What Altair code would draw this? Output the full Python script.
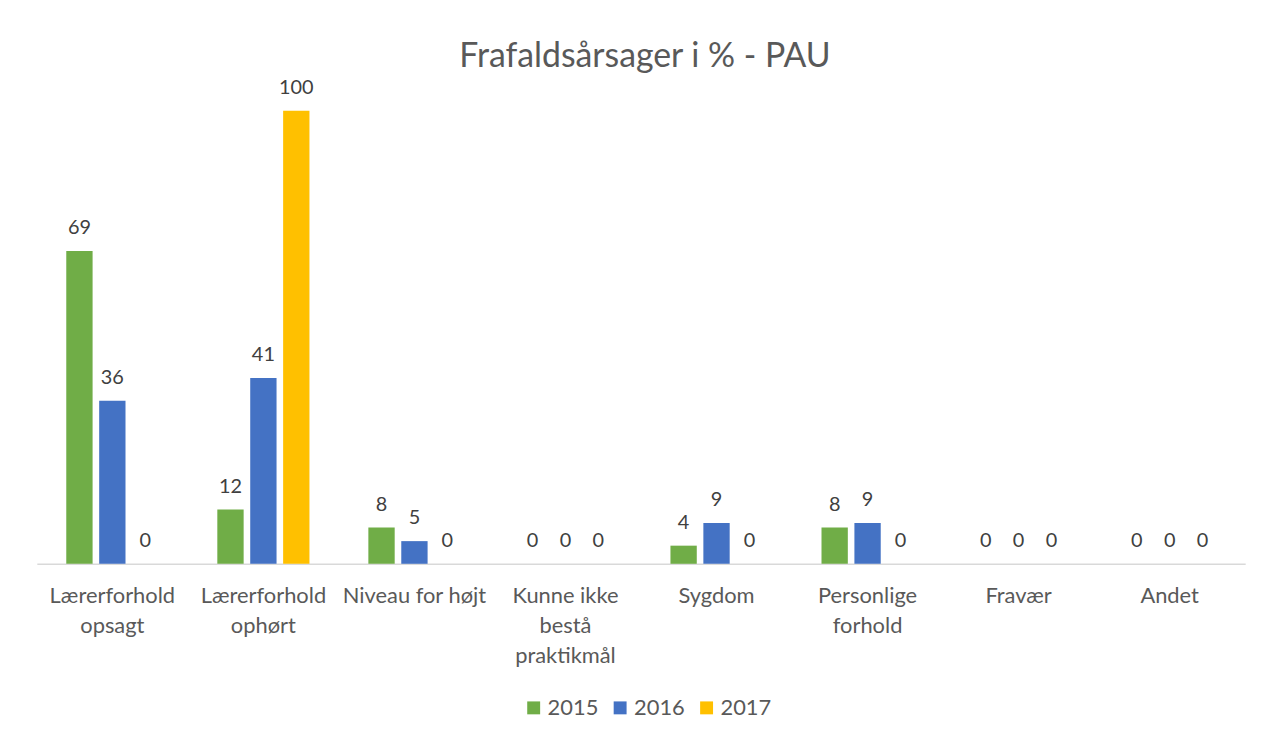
import altair as alt
import pandas as pd

categories = ["Lærerforhold opsagt", "Lærerforhold ophørt", "Niveau for højt",
              "Kunne ikke bestå praktikmål", "Sygdom", "Personlige forhold",
              "Fravær", "Andet"]
label_lines = [["Lærerforhold", "opsagt"], ["Lærerforhold", "ophørt"], ["Niveau for højt"],
               ["Kunne ikke", "bestå", "praktikmål"], ["Sygdom"], ["Personlige", "forhold"],
               ["Fravær"], ["Andet"]]
years = ["2015", "2016", "2017"]
v2015 = [69, 12, 8, 0, 4, 8, 0, 0]
v2016 = [36, 41, 5, 0, 9, 9, 0, 0]
v2017 = [0, 100, 0, 0, 0, 0, 0, 0]
colors = ["#70AD47", "#4472C4", "#FFC000"]

rows = []
for yr, vals in zip(years, [v2015, v2016, v2017]):
    for c, v in zip(categories, vals):
        rows.append({"cat": c, "year": yr, "value": v})
df = pd.DataFrame(rows)

# build label expression for wrapped axis labels
expr = "datum.label"
for c, lines in zip(categories, label_lines):
    arr = "[" + ",".join("'" + l + "'" for l in lines) + "]"
    expr = f"datum.label === '{c}' ? {arr} : ({expr})"

FONT = "Lato"
x = alt.X("cat:N", sort=categories, title=None,
          scale=alt.Scale(paddingInner=0.39, paddingOuter=0.195),
          axis=alt.Axis(labelExpr=expr, labelAngle=0, labelFontSize=22, labelColor="#595959",
                        labelFont=FONT, ticks=False, domainColor="#D9D9D9", domainWidth=1.5,
                        labelPadding=32, labelLineHeight=30, labelBaseline="middle"))
xo = alt.XOffset("year:N", sort=years, scale=alt.Scale(paddingInner=0.2, paddingOuter=0))
y = alt.Y("value:Q", scale=alt.Scale(domain=[0, 100]), axis=None)

base = alt.Chart(df)
bars = base.mark_bar().encode(
    x=x, xOffset=xo, y=y,
    color=alt.Color("year:N", sort=years, scale=alt.Scale(domain=years, range=colors),
                    legend=alt.Legend(title=None, orient="none", direction="horizontal",
                                      legendX=489, legendY=590, symbolType="square",
                                      symbolSize=169, symbolStrokeWidth=0, labelFontSize=22,
                                      labelFont=FONT, labelColor="#595959", columnPadding=10,
                                      labelOffset=3))
)
text = base.mark_text(baseline="bottom", dy=-13, fontSize=20, font=FONT, color="#404040").encode(
    x=x, xOffset=xo, y=y, text="value:Q"
)

chart = (bars + text).properties(
    width=1216, height=456,
    title=alt.TitleParams("Frafaldsårsager i % - PAU", fontSize=34, font=FONT, fontWeight="normal",
                          color="#595959", offset=4, dx=4, anchor="middle"),
    autosize=alt.AutoSizeParams(type="none"),
    padding={"left": 29, "top": 101, "right": 29, "bottom": 170},
).configure_view(stroke=None)

chart.save("out.html", embed_options={"renderer": "svg", "actions": False})
